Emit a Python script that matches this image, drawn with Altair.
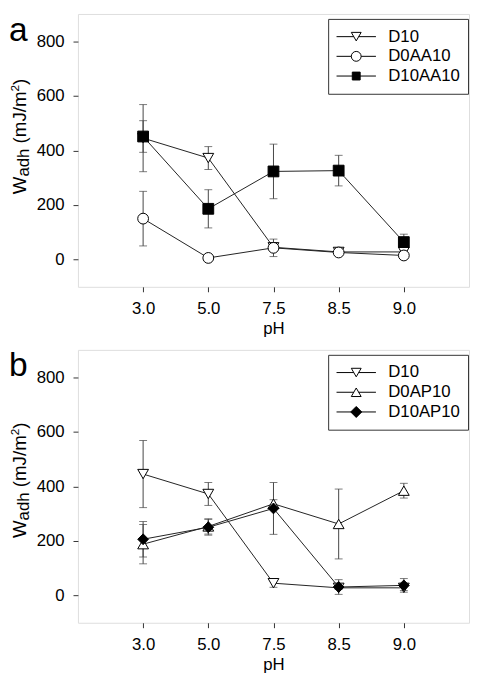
import altair as alt
import pandas as pd

# ---------------- data ----------------
PH = ["3.0", "5.0", "7.5", "8.5", "9.0"]

D10 = [445, 372, 45, 28, 28]
D10_ERR = [123, 42, 15, 6, 10]

D0AA10 = [150, 6, 43, 26, 15]
D0AA10_ERR = [100, 4, 32, 5, 8]

D10AA10 = [451, 186, 323, 326, 64]
D10AA10_ERR = [58, 70, 100, 56, 29]

D0AP10 = [188, 253, 336, 262, 384]
D0AP10_ERR = [72, 28, 15, 128, 27]

D10AP10 = [206, 250, 319, 31, 37]
D10AP10_ERR = [65, 29, 95, 27, 25]

SERIES_A = ["D10", "D0AA10", "D10AA10"]
SERIES_B = ["D10", "D0AP10", "D10AP10"]

Y_TICKS = [0, 200, 400, 600, 800]


def table(names, values, errors):
    rows = []
    for name, vals, errs in zip(names, values, errors):
        for ph, v, e in zip(PH, vals, errs):
            rows.append({"series": name, "pH": ph, "w": v, "lo": v - e, "hi": v + e})
    return pd.DataFrame(rows)


df_a = table(SERIES_A, [D10, D0AA10, D10AA10], [D10_ERR, D0AA10_ERR, D10AA10_ERR])
df_b = table(SERIES_B, [D10, D0AP10, D10AP10], [D10_ERR, D0AP10_ERR, D10AP10_ERR])

# ---------------- styling ----------------
FONT = "Liberation Sans"
W, H = 397, 277
INK = "#333333"

# legend symbols: line + marker in one custom path (unit square -1..1)
TRI_DOWN = "M-1,0H-0.125M0.125,0H1M0,0.2165L-0.25,-0.2165L0.25,-0.2165Z"
TRI_UP = "M-1,0H-0.125M0.125,0H1M0,-0.2165L-0.25,0.2165L0.25,0.2165Z"
CIRCLE = ("M-1,0H-0.25M0.25,0H1M0.25,0A0.25,0.25,0,1,1,-0.25,0"
          "A0.25,0.25,0,1,1,0.25,0Z")
SQUARE = "M-1,0H1M-0.2,-0.2H0.2V0.2H-0.2Z"
DIAMOND = "M-1,0H1M-0.28,0L0,-0.28L0.28,0L0,0.28Z"

xscale = alt.Scale(type="point", padding=1)
xaxis = alt.Axis(title="pH", labelAngle=0, labelFont=FONT, labelFontSize=17,
                 labelColor="black", tickSize=5, tickColor=INK, labelPadding=9,
                 titleFont=FONT, titleFontSize=17, titleFontWeight="normal",
                 titleColor="black", titlePadding=4, domain=False, grid=False)
yscale = alt.Scale(domain=[-100, 900], nice=False, zero=False)
yaxis = alt.Axis(title=None, values=Y_TICKS, labelFont=FONT, labelFontSize=17,
                 labelColor="black", tickSize=5, tickColor=INK, labelPadding=9,
                 domain=False, grid=False)


def X():
    return alt.X("pH:O", sort=PH, scale=xscale, axis=xaxis)


def Y(field):
    return alt.Y(field, type="quantitative", scale=yscale, axis=yaxis)


# Arial / Liberation Sans advance widths (em units) for title layout
ADV = {"W": 0.944, "a": 0.556, "d": 0.556, "h": 0.556, " ": 0.278, "(": 0.333,
       "m": 0.833, "J": 0.5, "/": 0.278, "2": 0.556, ")": 0.333}


def text_width(s, size):
    return sum(ADV[c] for c in s) * size


def y_title(bottom):
    # (text, font size, baseline shift across the text direction, gap before)
    pieces = [("W", 19, 0, 0), ("adh", 17, 3, 0), ("(mJ/m", 19, 0, 5.3),
              ("2", 12, -7, 0), (")", 19, 0, 0)]
    layers = []
    pos = bottom
    base_x = -52.5
    for txt, size, shift, gap in pieces:
        pos -= gap
        layers.append(
            alt.Chart(pd.DataFrame({"k": [0]})).mark_text(
                text=txt, angle=270, align="left", baseline="alphabetic",
                font=FONT, fontSize=size, color="black"
            ).encode(x=alt.value(base_x + shift), y=alt.value(pos))
        )
        pos -= text_width(txt, size)
    return layers


def panel(df, series, shapes, fills, sizes, legend_paths, letter, title_bottom):
    base = alt.Chart(df)
    err = base.mark_rule(color="#444444", strokeWidth=1).encode(
        x=X(), y=Y("lo"), y2="hi:Q")
    cap_lo = base.mark_tick(orient="horizontal", size=8, thickness=1,
                            color="#444444").encode(x=X(), y=Y("lo"))
    cap_hi = base.mark_tick(orient="horizontal", size=8, thickness=1,
                            color="#444444").encode(x=X(), y=Y("hi"))
    line = base.mark_line(color="#222222", strokeWidth=1).encode(
        x=X(), y=Y("w"), detail="series:N")
    pts = base.mark_point(filled=True, opacity=1, stroke="black", strokeWidth=1).encode(
        x=X(), y=Y("w"),
        shape=alt.Shape("series:N", scale=alt.Scale(domain=series, range=shapes), legend=None),
        fill=alt.Fill("series:N", scale=alt.Scale(domain=series, range=fills), legend=None),
        size=alt.Size("series:N", scale=alt.Scale(domain=series, range=sizes), legend=None),
    )
    leg = dict(title=None, orient="none", legendX=254, legendY=5,
               symbolSize=1600, symbolStrokeWidth=1,
               symbolOpacity=1, clipHeight=20, rowPadding=0,
               labelFont=FONT, labelFontSize=17, labelColor="black",
               labelOffset=12, padding=8, strokeColor=INK, fillColor="white",
               cornerRadius=0)
    legend_layer = base.mark_point(filled=False, opacity=0, strokeWidth=1).encode(
        x=X(), y=Y("w"),
        shape=alt.Shape("series:N", scale=alt.Scale(domain=series, range=legend_paths),
                        legend=alt.Legend(**leg)),
        fill=alt.Fill("series:N", scale=alt.Scale(domain=series, range=fills),
                      legend=alt.Legend(**leg)),
        stroke=alt.Stroke("series:N",
                          scale=alt.Scale(domain=series, range=["black"] * len(series)),
                          legend=alt.Legend(**leg)),
    )
    tag = alt.Chart(pd.DataFrame({"k": [0]})).mark_text(
        text=letter, align="left", baseline="alphabetic", font=FONT,
        fontSize=34, color="black"
    ).encode(x=alt.value(-70), y=alt.value(27))

    layers = [err, cap_lo, cap_hi, line, pts, legend_layer, tag] + y_title(title_bottom)
    return alt.layer(*layers).resolve_scale(
        shape="independent", fill="independent", size="independent",
        stroke="independent"
    ).properties(width=W, height=H)


pa = panel(df_a, SERIES_A, ["triangle-down", "circle", "square"],
           ["white", "white", "black"], [120, 120, 85],
           [TRI_DOWN, CIRCLE, SQUARE], "a", 183)
pb = panel(df_b, SERIES_B, ["triangle-down", "triangle-up", "diamond"],
           ["white", "white", "black"], [120, 120, 150],
           [TRI_DOWN, TRI_UP, DIAMOND], "b", 191)

chart = alt.vconcat(pa, pb, spacing=12).resolve_scale(
    shape="independent", fill="independent", size="independent",
    stroke="independent"
).configure_view(stroke=INK, strokeWidth=1).configure(
    background="white", padding=0
)

chart.save("out.html", embed_options={"renderer": "svg", "actions": False})
